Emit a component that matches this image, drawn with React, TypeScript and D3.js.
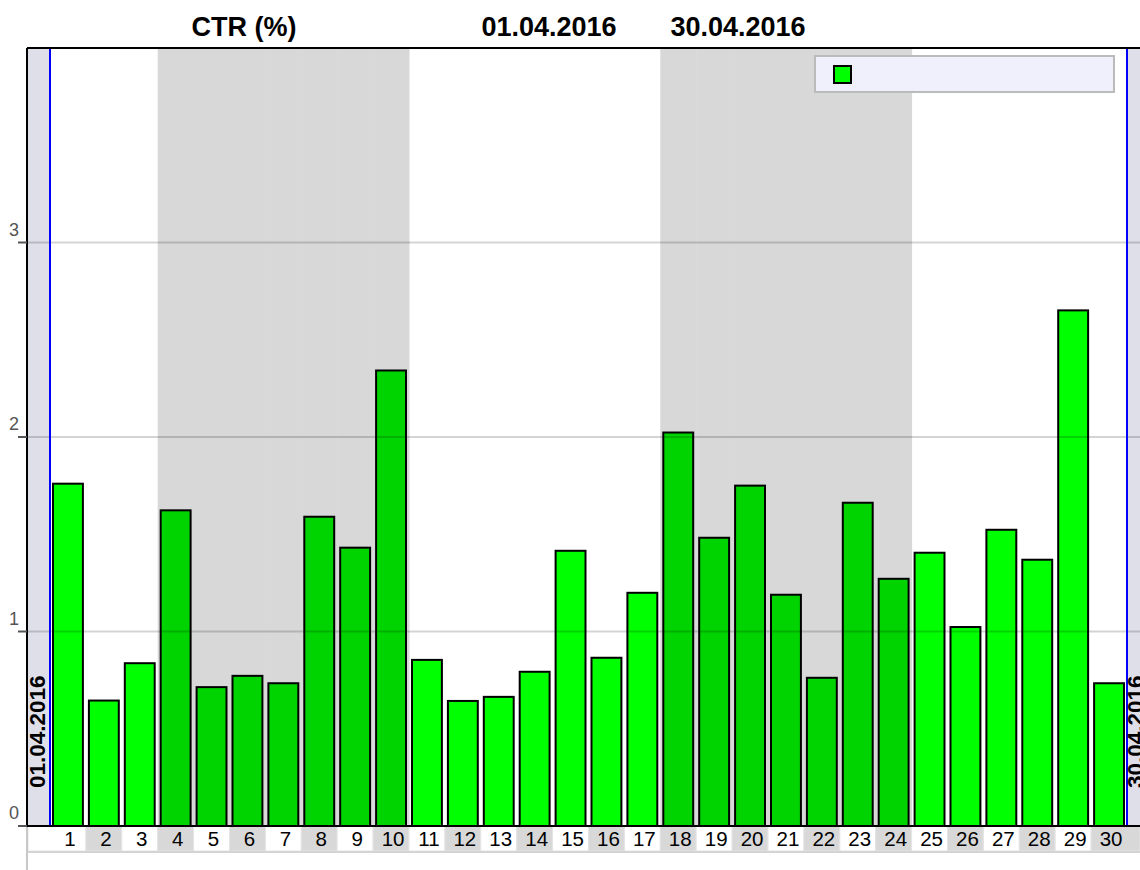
import React from "react";
import * as d3 from "d3";

const days = d3.range(1, 31).map(String);
const ctr = [
  1.76, 0.645, 0.837, 1.623, 0.714, 0.772, 0.734, 1.59, 1.431, 2.342,
  0.854, 0.643, 0.664, 0.793, 1.415, 0.865, 1.199, 2.023, 1.482, 1.75,
  1.189, 0.762, 1.662, 1.271, 1.405, 1.023, 1.523, 1.369, 2.651, 0.734,
];
const shadedDays = ["4", "5", "6", "7", "8", "9", "10", "18", "19", "20", "21", "22", "23", "24"];
const yTicks = [0, 1, 2, 3];
const titleParts = ["CTR (%)", "01.04.2016", "30.04.2016"];
const startLabel = "01.04.2016";
const endLabel = "30.04.2016";

const W = 1140;
const H = 870;
const axisX = 27;
const plotTop = 48;
const baseY = 826;
const leftLine = 50;
const rightLine = 1127;

export default function App() {
  const x = d3.scaleBand<string>().domain(days).range([leftLine, rightLine]).paddingInner(0.167).paddingOuter(0.0835);
  const y = d3.scaleLinear().domain([0, 4]).range([baseY, plotTop]);
  const step = x.step();
  const slotStart = (d: string) => (x(d) as number) - (step * 0.167) / 2;
  const font = "'Liberation Sans', Arial, sans-serif";

  return (
    <svg width={W} height={H} style={{ position: "absolute", left: 0, top: 0 }} fontFamily={font}>
      <rect x={0} y={0} width={W} height={H} fill="#fff" />
      {/* side bands */}
      <rect x={axisX} y={plotTop} width={leftLine - axisX} height={baseY - plotTop} fill="#dfdfe9" />
      <rect x={rightLine} y={plotTop} width={W - rightLine} height={baseY - plotTop} fill="#dfdfe9" />
      {/* shaded week bands */}
      {shadedDays.map((d) => (
        <rect key={"s" + d} x={slotStart(d)} y={plotTop} width={step + 0.5} height={baseY - plotTop} fill="#d8d8d8" />
      ))}
      {/* bars */}
      {days.map((d, i) => (
        <rect
          key={"b" + d}
          x={x(d)}
          y={y(ctr[i])}
          width={x.bandwidth()}
          height={baseY - y(ctr[i])}
          fill={shadedDays.includes(d) ? "#00d400" : "#00ff00"}
          stroke="#000"
          strokeWidth={2}
        />
      ))}
      {/* gridlines */}
      {yTicks.filter((t) => t > 0).map((t) => (
        <line key={"g" + t} x1={axisX} x2={W} y1={y(t)} y2={y(t)} stroke="#000" strokeOpacity={0.17} strokeWidth={2} />
      ))}
      {/* blue lines */}
      <line x1={leftLine} x2={leftLine} y1={plotTop} y2={baseY} stroke="#0000ff" strokeWidth={2} />
      <line x1={rightLine} x2={rightLine} y1={plotTop} y2={baseY} stroke="#0000ff" strokeWidth={2} />
      {/* rotated date labels */}
      <text transform={`translate(${leftLine - 5},788) rotate(-90)`} fontSize={22.5} fontWeight="bold" fill="#000">
        {startLabel}
      </text>
      <text transform={`translate(${rightLine + 16},788) rotate(-90)`} fontSize={22.5} fontWeight="bold" fill="#000">
        {endLabel}
      </text>
      {/* x label cells */}
      {days.map((d, i) => {
        const x0 = i === 0 ? axisX + 1 : slotStart(d);
        const x1 = i === days.length - 1 ? W : slotStart(d) + step;
        return (
          <g key={"l" + d}>
            <rect x={x0} y={baseY} width={x1 - x0} height={25} fill={i % 2 === 1 ? "#d8d8d8" : "#fff"} stroke="#e4e4e4" strokeWidth={1} />
            <text x={(x(d) as number) + x.bandwidth() / 2 + 2} y={baseY + 20} textAnchor="middle" fontSize={20.5} fill="#000">
              {d}
            </text>
          </g>
        );
      })}
      <line x1={axisX} x2={W} y1={852} y2={852} stroke="#d4d4d4" strokeWidth={2} />
      <line x1={axisX} x2={axisX} y1={baseY} y2={H} stroke="#c8c8c8" strokeWidth={2} />
      {/* axes */}
      <line x1={axisX} x2={W} y1={plotTop} y2={plotTop} stroke="#000" strokeWidth={2} />
      <line x1={axisX} x2={axisX} y1={plotTop} y2={baseY} stroke="#000" strokeWidth={2} />
      <line x1={18} x2={W} y1={baseY} y2={baseY} stroke="#000" strokeWidth={2} />
      {yTicks.map((t) => (
        <g key={"t" + t}>
          <line x1={18} x2={axisX} y1={y(t)} y2={y(t)} stroke="#555" strokeWidth={2} />
          <text x={14} y={y(t) - 7} textAnchor="middle" fontSize={18} fill="#555">
            {t}
          </text>
        </g>
      ))}
      {/* legend */}
      <rect x={815} y={56} width={299} height={36} fill="#f0f0fc" stroke="#bbbbbb" strokeWidth={2} />
      <rect x={834} y={66} width={17} height={17} fill="#00ff00" stroke="#000" strokeWidth={2} />
      {/* title */}
      <text x={244} y={36} textAnchor="middle" fontSize={27} fontWeight="bold" fill="#000">{titleParts[0]}</text>
      <text x={549} y={36} textAnchor="middle" fontSize={27} fontWeight="bold" fill="#000">{titleParts[1]}</text>
      <text x={738} y={36} textAnchor="middle" fontSize={27} fontWeight="bold" fill="#000">{titleParts[2]}</text>
    </svg>
  );
}
